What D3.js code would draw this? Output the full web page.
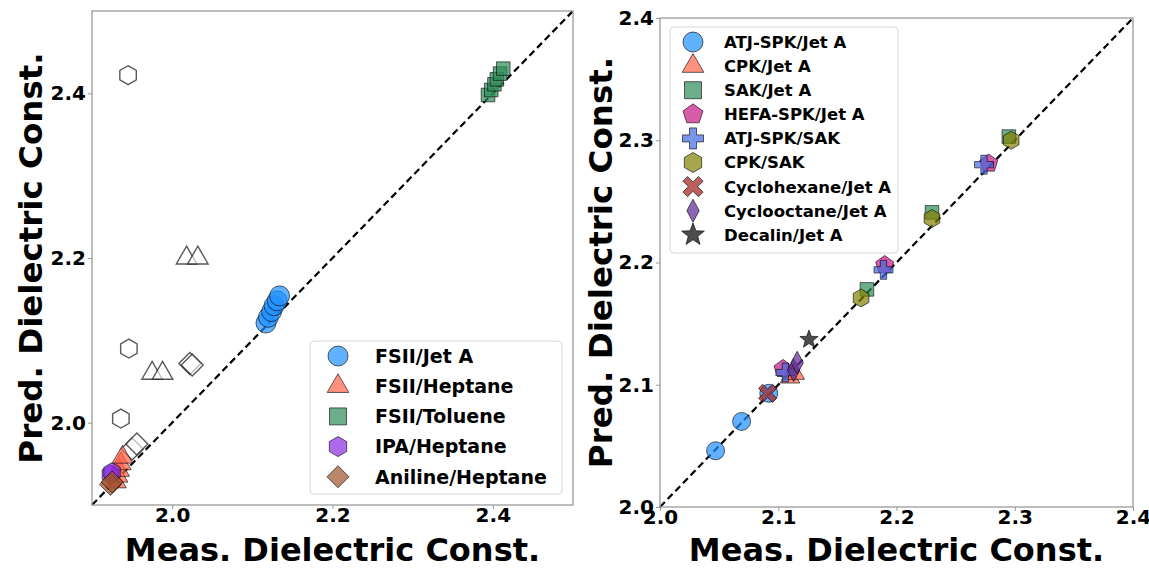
<!DOCTYPE html>
<html>
<head>
<meta charset="utf-8">
<script src="https://cdn.jsdelivr.net/npm/d3@7"></script>
<style>
  body { margin: 0; background: #fff; }
  text { font-family: "DejaVu Sans", sans-serif; font-weight: bold; }
</style>
</head>
<body>
<div id="chart"></div>
<script>
// ---- data: left panel ----
var fsiiJetX = [2.117, 2.120, 2.124, 2.127, 2.131, 2.134];
var fsiiJetY = [2.121, 2.128, 2.135, 2.142, 2.148, 2.154];
var fsiiHepX = [1.930, 1.932, 1.934, 1.936, 1.938];
var fsiiHepY = [1.928, 1.935, 1.942, 1.950, 1.958];
var fsiiTolX = [2.394, 2.398, 2.402, 2.405, 2.409, 2.413];
var fsiiTolY = [2.398, 2.404, 2.411, 2.417, 2.424, 2.430];
var ipaHepX = [1.923, 1.925];
var ipaHepY = [1.937, 1.940];
var anilHepX = [1.923, 1.925];
var anilHepY = [1.925, 1.928];
// open markers (no legend entry)
var openHexX = [1.945, 1.946, 1.936];
var openHexY = [2.422, 2.090, 2.005];
var openTriX = [2.018, 2.032, 1.975, 1.988];
var openTriY = [2.200, 2.200, 2.060, 2.060];
var openDiaX = [2.022, 2.025, 1.950, 1.956];
var openDiaY = [2.072, 2.070, 1.968, 1.974];
var leftTicks = [2.0, 2.2, 2.4];

// ---- data: right panel ----
var atjJetX = [2.047, 2.069, 2.092];
var atjJetY = [2.046, 2.070, 2.093];
var cpkJetX = [2.110, 2.114];
var cpkJetY = [2.106, 2.109];
var sakJetX = [2.175, 2.230, 2.295];
var sakJetY = [2.178, 2.241, 2.303];
var hefaJetX = [2.104, 2.190, 2.278];
var hefaJetY = [2.113, 2.198, 2.281];
var atjSakX = [2.106, 2.189, 2.274];
var atjSakY = [2.110, 2.194, 2.280];
var cpkSakX = [2.170, 2.230, 2.297];
var cpkSakY = [2.171, 2.236, 2.300];
var chexJetX = [2.091];
var chexJetY = [2.093];
var coctJetX = [2.113, 2.116];
var coctJetY = [2.112, 2.118];
var decJetX = [2.126];
var decJetY = [2.137];
var rightTicks = [2.0, 2.1, 2.2, 2.3, 2.4];

var W = 1149, H = 569;
var svg = d3.select("#chart").append("svg")
  .attr("width", W).attr("height", H);

// marker shapes
function poly(n, R, start) {
  var p = [];
  for (var i = 0; i < n; i++) {
    var a = (start + i * 360 / n) * Math.PI / 180;
    p.push([R * Math.cos(a), R * Math.sin(a)]);
  }
  return "M" + p.map(function(q) { return q[0].toFixed(2) + "," + q[1].toFixed(2); }).join("L") + "Z";
}
function cross(r, a, rot) {
  var pts = [[-a,-r],[a,-r],[a,-a],[r,-a],[r,a],[a,a],[a,r],[-a,r],[-a,a],[-r,a],[-r,-a],[-a,-a]];
  var c = Math.cos(rot), s = Math.sin(rot);
  return "M" + pts.map(function(q) {
    return (q[0]*c - q[1]*s).toFixed(2) + "," + (q[0]*s + q[1]*c).toFixed(2);
  }).join("L") + "Z";
}
function shape(type, r) {
  if (type === "circle") return d3.symbol(d3.symbolCircle, Math.PI * r * r)();
  if (type === "triangle") return poly(3, r * 1.25, -90);
  if (type === "square") return poly(4, r * 1.2, 45);
  if (type === "diamond") return poly(4, r * 1.1, -90);
  if (type === "thindiamond") return "M0," + (-r*1.15) + "L" + (r*0.62) + ",0L0," + (r*1.15) + "L" + (-r*0.62) + ",0Z";
  if (type === "pentagon") return poly(5, r * 1.05, -90);
  if (type === "hexagon") return poly(6, r * 1.0, -90);
  if (type === "plus") return cross(r * 1.05, r * 0.35, 0);
  if (type === "x") return cross(r * 1.1, r * 0.33, Math.PI / 4);
  if (type === "star") {
    var p = [];
    for (var i = 0; i < 10; i++) {
      var R = i % 2 === 0 ? r * 1.2 : r * 0.5;
      var a = (-90 + i * 36) * Math.PI / 180;
      p.push(R * Math.cos(a).toFixed(3) + "," + R * Math.sin(a).toFixed(3));
    }
    return "M" + p.join("L") + "Z";
  }
}

function panel(o) {
  var x = d3.scaleLinear().domain(o.domain).range([o.x0, o.x1]);
  var y = d3.scaleLinear().domain(o.domain).range([o.y1, o.y0]);
  var g = svg.append("g");

  // axes
  g.append("g").attr("transform", "translate(0," + o.y1 + ")")
    .call(d3.axisBottom(x).tickValues(o.ticks).tickFormat(d3.format(".1f")).tickSize(4))
    .call(function(a) {
      a.select(".domain").remove();
      a.selectAll("line").attr("stroke", "#999");
      a.selectAll("text").attr("font-size", 20).attr("fill", "#000")
        .attr("font-family", "DejaVu Sans").attr("y", 5).attr("dy", "0.62em");
    });
  g.append("g").attr("transform", "translate(" + o.x0 + ",0)")
    .call(d3.axisLeft(y).tickValues(o.ticks).tickFormat(d3.format(".1f")).tickSize(4))
    .call(function(a) {
      a.select(".domain").remove();
      a.selectAll("line").attr("stroke", "#999");
      a.selectAll("text").attr("font-size", 20).attr("fill", "#000")
        .attr("font-family", "DejaVu Sans").attr("x", -6);
    });

  // parity line
  g.append("line")
    .attr("x1", x(o.domain[0])).attr("y1", y(o.domain[0]))
    .attr("x2", x(o.domain[1])).attr("y2", y(o.domain[1]))
    .attr("stroke", "#000").attr("stroke-width", 2.2)
    .attr("stroke-dasharray", "7,4");

  // points
  o.series.forEach(function(s) {
    g.append("g").selectAll("path")
      .data(s.xs.map(function(v, i) { return [v, s.ys[i]]; }))
      .enter().append("path")
        .attr("transform", function(d) { return "translate(" + x(d[0]) + "," + y(d[1]) + ")"; })
        .attr("d", shape(s.shape, s.r))
        .attr("fill", s.fill)
        .attr("fill-opacity", s.op)
        .attr("stroke", s.stroke || "#000")
        .attr("stroke-opacity", s.sop || 0.6)
        .attr("stroke-width", s.sw || 1);
  });

  // frame
  g.append("rect")
    .attr("x", o.x0).attr("y", o.y0)
    .attr("width", o.x1 - o.x0).attr("height", o.y1 - o.y0)
    .attr("fill", "none").attr("stroke", "#9a9a9a").attr("stroke-width", 1.3);

  // titles
  g.append("text")
    .attr("x", (o.x0 + o.x1) / 2).attr("y", 561)
    .attr("text-anchor", "middle").attr("font-size", 32)
    .text("Meas. Dielectric Const.");
  g.append("text")
    .attr("transform", "translate(" + o.ytx + "," + ((o.y0 + o.y1) / 2) + ") rotate(-90)")
    .attr("text-anchor", "middle").attr("font-size", 32.5)
    .text("Pred. Dielectric Const.");

  // legend
  var L = o.legend;
  g.append("rect")
    .attr("x", L.x).attr("y", L.y).attr("width", L.w).attr("height", L.h)
    .attr("rx", 4).attr("fill", "#fff").attr("fill-opacity", 0.8)
    .attr("stroke", "#d6d6d6");
  o.series.filter(function(s) { return s.label; }).forEach(function(s, i) {
    var cy = L.y + L.first + i * L.step;
    g.append("path")
      .attr("transform", "translate(" + (L.x + L.mx) + "," + cy + ")")
      .attr("d", shape(s.shape, L.r))
      .attr("fill", s.fill).attr("fill-opacity", s.op)
      .attr("stroke", "#000").attr("stroke-opacity", 0.6).attr("stroke-width", 1);
    g.append("text")
      .attr("x", L.x + L.tx).attr("y", cy).attr("dy", "0.36em")
      .attr("font-size", L.fs).text(s.label);
  });
}

var openStyle = { fill: "#fff", op: 0.6, stroke: "#222", sop: 0.75, sw: 1.4 };

panel({
  domain: [1.9, 2.5], ticks: leftTicks,
  x0: 92, x1: 573, y0: 11, y1: 505, ytx: 42,
  series: [
    Object.assign({ xs: openHexX, ys: openHexY, shape: "hexagon", r: 9.5 }, openStyle),
    Object.assign({ xs: openTriX, ys: openTriY, shape: "triangle", r: 9.5 }, openStyle),
    Object.assign({ xs: openDiaX, ys: openDiaY, shape: "diamond", r: 10 }, openStyle),
    { label: "FSII/Jet A", xs: fsiiJetX, ys: fsiiJetY, shape: "circle", r: 10, fill: "#1e90ff", op: 0.7 },
    { label: "FSII/Heptane", xs: fsiiHepX, ys: fsiiHepY, shape: "triangle", r: 9.5, fill: "#ff6347", op: 0.7 },
    { label: "FSII/Toluene", xs: fsiiTolX, ys: fsiiTolY, shape: "square", r: 8, fill: "#2e8b57", op: 0.7 },
    { label: "IPA/Heptane", xs: ipaHepX, ys: ipaHepY, shape: "hexagon", r: 9.5, fill: "#8a2be2", op: 0.7 },
    { label: "Aniline/Heptane", xs: anilHepX, ys: anilHepY, shape: "diamond", r: 10, fill: "#a0522d", op: 0.7 }
  ],
  legend: { x: 310, y: 341, w: 252, h: 153, first: 15, step: 30.2, mx: 28, tx: 65, r: 10, fs: 19 }
});

panel({
  domain: [2.0, 2.4], ticks: rightTicks,
  x0: 660, x1: 1133, y0: 18, y1: 507, ytx: 612,
  series: [
    { label: "ATJ-SPK/Jet A", xs: atjJetX, ys: atjJetY, shape: "circle", r: 9, fill: "#1e90ff", op: 0.7 },
    { label: "CPK/Jet A", xs: cpkJetX, ys: cpkJetY, shape: "triangle", r: 9, fill: "#ff6347", op: 0.7 },
    { label: "SAK/Jet A", xs: sakJetX, ys: sakJetY, shape: "square", r: 8, fill: "#2e8b57", op: 0.7 },
    { label: "HEFA-SPK/Jet A", xs: hefaJetX, ys: hefaJetY, shape: "pentagon", r: 9, fill: "#c71585", op: 0.7 },
    { label: "ATJ-SPK/SAK", xs: atjSakX, ys: atjSakY, shape: "plus", r: 9, fill: "#4169e1", op: 0.7 },
    { label: "CPK/SAK", xs: cpkSakX, ys: cpkSakY, shape: "hexagon", r: 9, fill: "#808000", op: 0.7 },
    { label: "Cyclohexane/Jet A", xs: chexJetX, ys: chexJetY, shape: "x", r: 9, fill: "#a52a2a", op: 0.75 },
    { label: "Cyclooctane/Jet A", xs: coctJetX, ys: coctJetY, shape: "thindiamond", r: 10, fill: "#663399", op: 0.75 },
    { label: "Decalin/Jet A", xs: decJetX, ys: decJetY, shape: "star", r: 8, fill: "#000", op: 0.7 }
  ],
  legend: { x: 670, y: 27, w: 228, h: 226, first: 15, step: 24.1, mx: 23, tx: 54, r: 10, fs: 16.5 }
});
</script>
</body>
</html>
